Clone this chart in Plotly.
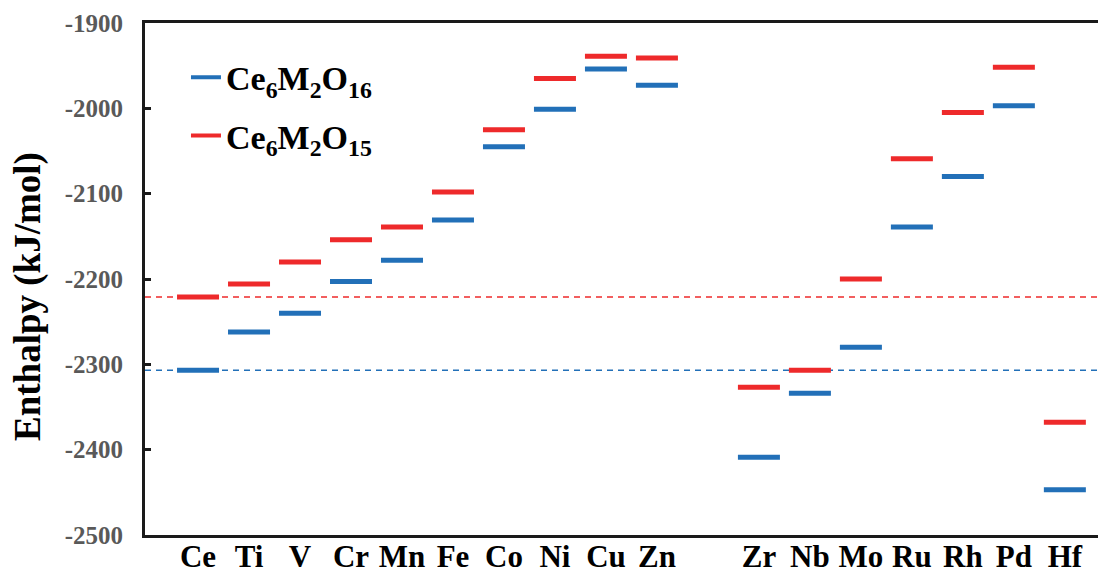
import plotly.graph_objects as go

categories = ["Ce", "Ti", "V", "Cr", "Mn", "Fe", "Co", "Ni", "Cu", "Zn", " ",
              "Zr", "Nb", "Mo", "Ru", "Rh", "Pd", "Hf"]
metals = ["Ce", "Ti", "V", "Cr", "Mn", "Fe", "Co", "Ni", "Cu", "Zn",
          "Zr", "Nb", "Mo", "Ru", "Rh", "Pd", "Hf"]
o16 = [-2307, -2262, -2240, -2203, -2178, -2131, -2045, -2001, -1954, -1973,
       -2409, -2334, -2280, -2139, -2080, -1997, -2447]
o15 = [-2221, -2206, -2180, -2154, -2139, -2098, -2025, -1965, -1939, -1941,
       -2327, -2307, -2200, -2059, -2005, -1952, -2368]
name16 = "Ce<sub>6</sub>M<sub>2</sub>O<sub>16</sub>"
name15 = "Ce<sub>6</sub>M<sub>2</sub>O<sub>15</sub>"
y_ticks = [-2500, -2400, -2300, -2200, -2100, -2000, -1900]
y_ticktext = ["-2500", "-2400", "-2300", "-2200", "-2100", "-2000", "-1900"]

BLUE = "#2270B8"
RED = "#EE2A2B"
FONT = "Liberation Serif"

fig = go.Figure()
for vals, col in [(o16, BLUE), (o15, RED)]:
    fig.add_trace(go.Scatter(
        x=metals, y=vals, mode="markers", showlegend=False,
        marker=dict(symbol="line-ew", size=30, color=col,
                    line=dict(width=5, color=col)),
    ))
# legend entries
for nm, col, grp in [(name16, BLUE, "a"), (name15, RED, "b")]:
    fig.add_trace(go.Scatter(
        x=[None], y=[None], mode="lines", name=nm, legendgroup=grp,
        line=dict(color=col, width=4),
    ))

# reference dashed lines at Ce values
for v, col in [(o15[0], RED), (o16[0], BLUE)]:
    fig.add_shape(type="line", xref="paper", x0=0, x1=1, yref="y", y0=v, y1=v,
                  line=dict(color=col, width=1.5, dash="6px,5px"), layer="below")

fig.add_annotation(
    text="Enthalpy (kJ/mol)", textangle=-90, showarrow=False,
    xref="paper", x=-(145 - 28) / 953, xanchor="center",
    yref="paper", y=(535 - 297) / 512, yanchor="middle",
    font=dict(family=FONT, size=37, color="black", weight="bold"),
)

fig.update_layout(
    width=1098, height=584,
    margin=dict(l=145, r=0, t=23, b=49),
    paper_bgcolor="white", plot_bgcolor="white",
    font=dict(family=FONT),
    legend=dict(
        x=0.043, y=0.95, xanchor="left", yanchor="top",
        bgcolor="rgba(0,0,0,0)", borderwidth=0,
        font=dict(family=FONT, size=34, color="black", weight="bold"),
        tracegroupgap=11,
    ),
    xaxis=dict(
        type="category", categoryorder="array", categoryarray=categories,
        range=[-1.04, 17.65], showline=True, linecolor="#1a1a1a", linewidth=3,
        mirror=True, ticks="", showgrid=False, zeroline=False,
        tickfont=dict(family=FONT, size=31, color="black", weight="bold"),
        ticklabelstandoff=-8,
    ),
    yaxis=dict(
        range=[-2500, -1900], tickvals=y_ticks, ticktext=y_ticktext,
        ticks="inside", ticklen=6,
        tickwidth=3, tickcolor="#1a1a1a", showline=True, linecolor="#1a1a1a",
        linewidth=3, showgrid=False, zeroline=False,
        tickfont=dict(family=FONT, size=25, color="#595959", weight="bold"),
        ticklabelstandoff=14,
    ),
)

fig.write_html("out.html")
